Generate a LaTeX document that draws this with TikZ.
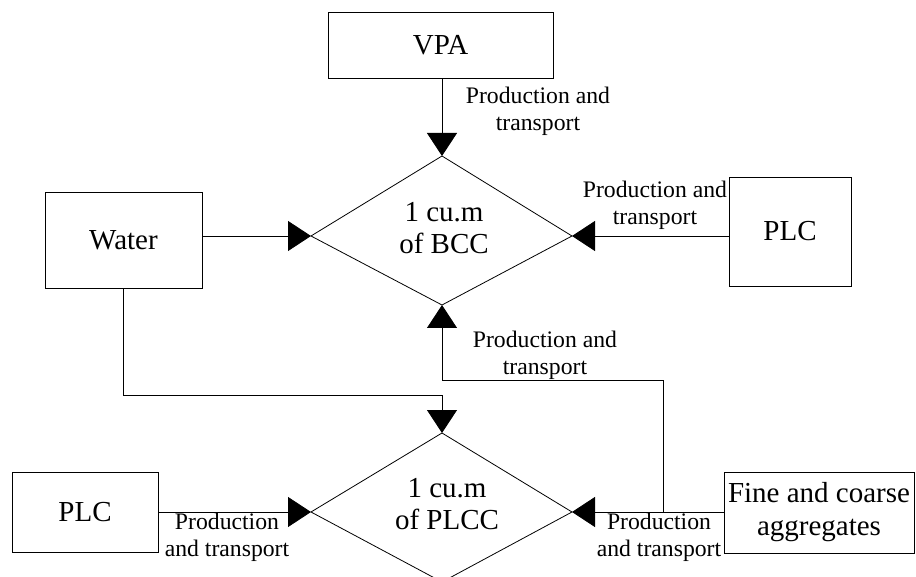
\documentclass[tikz,border=0pt]{standalone}
\usepackage{fontspec}
\setmainfont{Liberation Serif}
\usetikzlibrary{arrows.meta}
\begin{document}
\begin{tikzpicture}[x=1pt,y=-1pt,
  boxnode/.style={draw, line width=0.8pt, inner sep=0pt, font=\fontsize{29}{33}\selectfont, align=center},
  lbl/.style={inner sep=0pt, font=\fontsize{23.7}{27}\selectfont, align=center},
  ctext/.style={inner sep=0pt, font=\fontsize{29}{32}\selectfont, align=center},
  conn/.style={line width=0.8pt},
  arr/.style={conn, -{Triangle[length=23pt,width=30pt]}},
  shapeline/.style={line width=0.8pt, line join=miter}
]
\useasboundingbox (0,0) rectangle (916,577);
\begin{scope}
\clip (0,0) rectangle (916,577);
% boxes
\node[boxnode, minimum width=225pt, minimum height=66pt] (vpa) at (440.5,45) {VPA};
\node[boxnode, minimum width=157pt, minimum height=96pt] (water) at (123.5,240) {Water};
\node[boxnode, minimum width=122pt, minimum height=109pt] (plcr) at (790,231.5) {PLC};
\node[boxnode, minimum width=146pt, minimum height=80pt] (plcl) at (85,512) {PLC};
\node[boxnode, minimum width=190pt, minimum height=81pt] (fine) at (819,512.5) {Fine and coarse\\aggregates};
% upper diamond
\coordinate (bT) at (442,156);
\coordinate (bR) at (572,236);
\coordinate (bB) at (442,305);
\coordinate (bL) at (311,236);
\draw[shapeline] (bT) -- (bR) -- (bB) -- (bL) -- cycle;
\node[ctext] (bcc) at (444,228) {1 cu.m\\of BCC};
% lower diamond
\coordinate (pT) at (442,433);
\coordinate (pR) at (572,512);
\coordinate (pB) at (442,582);
\coordinate (pL) at (311,512);
\draw[shapeline] (pT) -- (pR) -- (pB) -- (pL) -- cycle;
\node[ctext] (plcc) at (447,504) {1 cu.m\\of PLCC};
% connectors
\draw[arr] (vpa.south -| bT) -- (bT);
\draw[arr] (water.east |- bL) -- (bL);
\draw[arr] (plcr.west |- bR) -- (bR);
\draw[arr] (plcl.east |- pL) -- (pL);
\draw[arr] (fine.west |- pR) -- (pR);
\coordinate (wj) at (442,395);
\draw[arr] (water.south) |- (wj) -- (pT);
\coordinate (fj) at (663,512);
\coordinate (fk) at (442,380);
\draw[arr] (fj) |- (fk) -- (bB);
% labels
\node[lbl] (l1) at (538,111) {Production and\\transport};
\node[lbl] (l2) at (655,205) {Production and\\transport};
\node[lbl] (l3) at (545,355) {Production and\\transport};
\node[lbl] (l4) at (227,537) {Production\\and transport};
\node[lbl] (l5) at (659,537) {Production\\and transport};
\end{scope}
\end{tikzpicture}
\end{document}
